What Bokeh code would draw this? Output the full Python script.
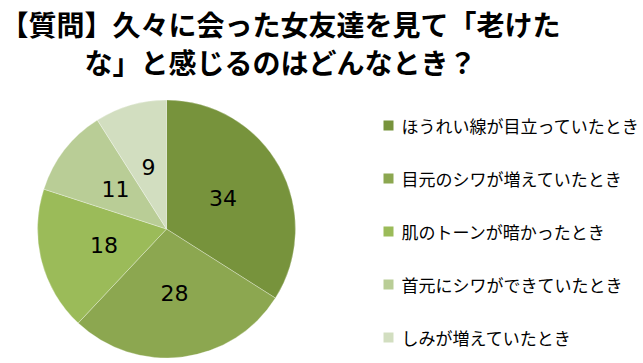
import math
from bokeh.plotting import figure
from bokeh.models import Range1d, ColumnDataSource
from bokeh.core.properties import value
from bokeh.embed import file_html
from bokeh.resources import INLINE

# ---- data ----
categories = ["ほうれい線が目立っていたとき", "目元のシワが増えていたとき", "肌のトーンが暗かったとき",
              "首元にシワができていたとき", "しみが増えていたとき"]
values = [34, 28, 18, 11, 9]
colors = ["#77933C", "#8CA750", "#9BBB59", "#B9CD96", "#D2DEC0"]
title_lines = ["【質問】久々に会った女友達を見て「老けた", "な」と感じるのはどんなとき？"]

W, H = 643, 363
p = figure(width=W, height=H, output_backend="svg", toolbar_location=None,
           x_range=Range1d(0, W), y_range=Range1d(0, H),
           min_border=0, outline_line_color=None)
p.axis.visible = False
p.grid.visible = False
p.background_fill_color = "white"
p.border_fill_color = "white"

# layout (pixel positions in the window; data y = H - pixel y)
cx, cy_px, R = 166, 228.5, 129
cy = H - cy_px

total = sum(values)
starts, ends, lx, ly, labels = [], [], [], [], []
acc = 0.0
for v in values:
    a0 = math.pi / 2 - 2 * math.pi * acc / total
    a1 = math.pi / 2 - 2 * math.pi * (acc + v) / total
    starts.append(a0)
    ends.append(a1)
    mid = (a0 + a1) / 2
    lx.append(cx + 0.5 * R * math.cos(mid))
    ly.append(cy + 0.5 * R * math.sin(mid))
    labels.append(str(v))
    acc += v

src = ColumnDataSource(dict(start=starts, end=ends, color=colors, lx=lx, ly=ly, label=labels))
p.wedge(x=cx, y=cy, radius=R, start_angle="start", end_angle="end", direction="clock",
        fill_color="color", line_color="white", line_width=0.6, line_alpha=0.5, source=src)
p.text(x="lx", y="ly", text="label", source=src, text_align="center", text_baseline="middle",
       text_font=value("DejaVu Sans"), text_font_size="22px", text_color="black")

# title
p.text(x=[280, 280], y=[H - 23, H - 61], text=title_lines, text_align="center",
       text_baseline="middle", text_font=value("Noto Sans CJK JP"), text_font_size="28px",
       text_font_style="bold", text_color="black")

# legend
ly_px = [125 + 53 * i for i in range(len(categories))]
leg = ColumnDataSource(dict(y=[H - v for v in ly_px], name=categories, color=colors))
p.rect(x=388, y="y", width=10, height=10, fill_color="color", line_color=None, source=leg)
p.text(x=401, y="y", text="name", source=leg, text_align="left", text_baseline="middle",
       text_font=value("Noto Sans CJK JP"), text_font_size="17px", text_color="black")

open("out.html", "w").write(file_html(p, INLINE))
